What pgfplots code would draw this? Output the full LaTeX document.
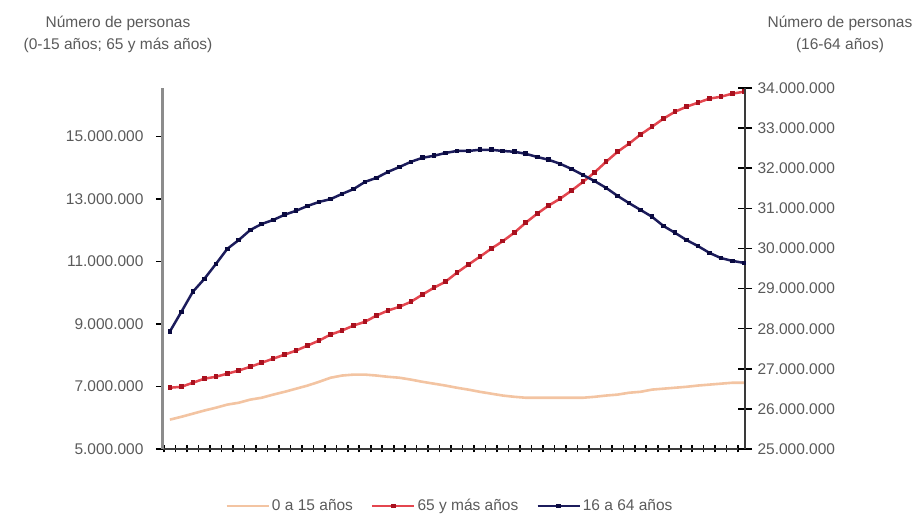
\documentclass[border=0pt]{standalone}
\usepackage{pgfplots}
\pgfplotsset{compat=1.18}
\usepackage{pgfplotstable}
\usepackage{fontspec}
\setmainfont{Liberation Sans}

\definecolor{tickgray}{HTML}{5A5A5A}
\definecolor{axisgray}{HTML}{8C8C8C}
\definecolor{axisdark}{HTML}{3A3A3A}
\definecolor{navyline}{HTML}{1C1C5C}
\definecolor{navymark}{HTML}{0A0A40}
\definecolor{redline}{HTML}{E4464F}
\definecolor{redmark}{HTML}{A8101E}
\definecolor{peach}{HTML}{F3C4A2}

% population in millions
\pgfplotstableread{
year young
2000 5.94
2001 6.03
2002 6.13
2003 6.23
2004 6.32
2005 6.42
2006 6.48
2007 6.58
2008 6.64
2009 6.74
2010 6.83
2011 6.93
2012 7.03
2013 7.15
2014 7.28
2015 7.35
2016 7.38
2017 7.38
2018 7.35
2019 7.31
2020 7.28
2021 7.22
2022 7.15
2023 7.09
2024 7.03
2025 6.96
2026 6.90
2027 6.83
2028 6.77
2029 6.71
2030 6.67
2031 6.64
2032 6.64
2033 6.64
2034 6.64
2035 6.64
2036 6.64
2037 6.67
2038 6.71
2039 6.74
2040 6.80
2041 6.83
2042 6.90
2043 6.93
2044 6.96
2045 6.99
2046 7.03
2047 7.06
2048 7.09
2049 7.12
2050 7.12
}\youngtab

\pgfplotstableread{
year old
2000 6.96
2001 6.99
2002 7.12
2003 7.25
2004 7.31
2005 7.41
2006 7.51
2007 7.63
2008 7.76
2009 7.89
2010 8.02
2011 8.15
2012 8.31
2013 8.47
2014 8.66
2015 8.79
2016 8.95
2017 9.07
2018 9.27
2019 9.43
2020 9.55
2021 9.71
2022 9.94
2023 10.16
2024 10.35
2025 10.64
2026 10.90
2027 11.15
2028 11.41
2029 11.65
2030 11.92
2031 12.24
2032 12.53
2033 12.79
2034 13.01
2035 13.27
2036 13.55
2037 13.85
2038 14.19
2039 14.51
2040 14.77
2041 15.06
2042 15.31
2043 15.57
2044 15.79
2045 15.95
2046 16.08
2047 16.21
2048 16.27
2049 16.37
2050 16.43
}\oldtab

\pgfplotstableread{
year work
2000 27.93
2001 28.42
2002 28.92
2003 29.24
2004 29.61
2005 29.99
2006 30.21
2007 30.46
2008 30.61
2009 30.71
2010 30.84
2011 30.94
2012 31.06
2013 31.16
2014 31.23
2015 31.36
2016 31.48
2017 31.66
2018 31.76
2019 31.91
2020 32.03
2021 32.16
2022 32.26
2023 32.31
2024 32.38
2025 32.43
2026 32.43
2027 32.46
2028 32.46
2029 32.43
2030 32.41
2031 32.36
2032 32.28
2033 32.21
2034 32.11
2035 31.98
2036 31.83
2037 31.68
2038 31.51
2039 31.31
2040 31.13
2041 30.96
2042 30.79
2043 30.56
2044 30.39
2045 30.21
2046 30.06
2047 29.89
2048 29.76
2049 29.69
2050 29.64
}\worktab

\pgfplotsset{
  every tick label/.append style={font=\fontsize{15.5}{17}\selectfont, text=tickgray},
  peachstyle/.style={peach, line width=2.6pt, no marks},
  redstyle/.style={redline, line width=2.5pt, mark=square*, mark size=1.8pt,
    mark options={fill=redmark, draw=redmark, line width=0pt}},
  navystyle/.style={navyline, line width=2.5pt, mark=square*, mark size=1.8pt,
    mark options={fill=navymark, draw=navymark, line width=0pt}},
}

\begin{document}
\begin{tikzpicture}
\begin{axis}[
  at={(0pt,0pt)}, anchor=south west,
  scale only axis, width=582pt, height=361pt,
  xmin=1999.4, xmax=2050.1,
  ymin=5, ymax=16.55,
  axis x line=bottom, axis y line=left,
  axis line style={-},
  x axis line style={line width=2.5pt, draw=axisdark},
  y axis line style={line width=3pt, draw=axisgray},
  xtick={1999.5,2000.5,...,2049.5}, xticklabels={},
  xtick align=center,
  ytick align=outside,
  major tick length=7pt,
  tick style={line width=1.6pt, draw=black},
  ytick={5,7,9,11,13,15},
  yticklabels={5.000.000,7.000.000,9.000.000,11.000.000,13.000.000,15.000.000},
  yticklabel style={xshift=-9pt},
  clip=false,
]
\addplot[peachstyle] table[x=year, y=young] {\youngtab};
\addplot[redstyle] table[x=year, y=old] {\oldtab};
\end{axis}

\begin{axis}[
  at={(0pt,0pt)}, anchor=south west,
  scale only axis, width=582pt, height=361pt,
  xmin=1999.4, xmax=2050.1,
  ymin=25, ymax=34,
  axis y line=right, axis x line=none,
  axis line style={-},
  y axis line style={line width=2.5pt, draw=axisdark},
  ytick={25,26,...,34},
  yticklabels={25.000.000,26.000.000,27.000.000,28.000.000,29.000.000,30.000.000,31.000.000,32.000.000,33.000.000,34.000.000},
  ytick align=center,
  major tick length=14pt,
  tick style={line width=1.6pt, draw=black},
  yticklabel style={xshift=2pt},
  clip=false,
  legend columns=-1,
  legend style={at={(0.493,0)}, anchor=center, yshift=-57pt, draw=none, fill=none,
    font=\fontsize{15.5}{17}\selectfont, text=tickgray,
    /tikz/every even column/.append style={column sep=16pt}},
  legend image code/.code={\draw[mark repeat=2, mark phase=2] plot coordinates {(0pt,0pt) (21pt,0pt) (42pt,0pt)};},
]
\addlegendimage{peachstyle}
\addlegendentry{0 a 15 años}
\addlegendimage{redstyle}
\addlegendentry{65 y más años}
\addplot[navystyle] table[x=year, y=work] {\worktab};
\addlegendentry{16 a 64 años}
\end{axis}

\node[font=\fontsize{15.5}{18}\selectfont, text=tickgray] at (-45pt,426pt) {Número de personas};
\node[font=\fontsize{15.5}{18}\selectfont, text=tickgray] at (-45pt,404pt) {(0-15 años; 65 y más años)};
\node[font=\fontsize{15.5}{18}\selectfont, text=tickgray] at (677pt,426pt) {Número de personas};
\node[font=\fontsize{15.5}{18}\selectfont, text=tickgray] at (677pt,404pt) {(16-64 años)};

\pgfresetboundingbox
\useasboundingbox (-163pt,-65pt) rectangle (751pt,449pt);
\end{tikzpicture}
\end{document}
